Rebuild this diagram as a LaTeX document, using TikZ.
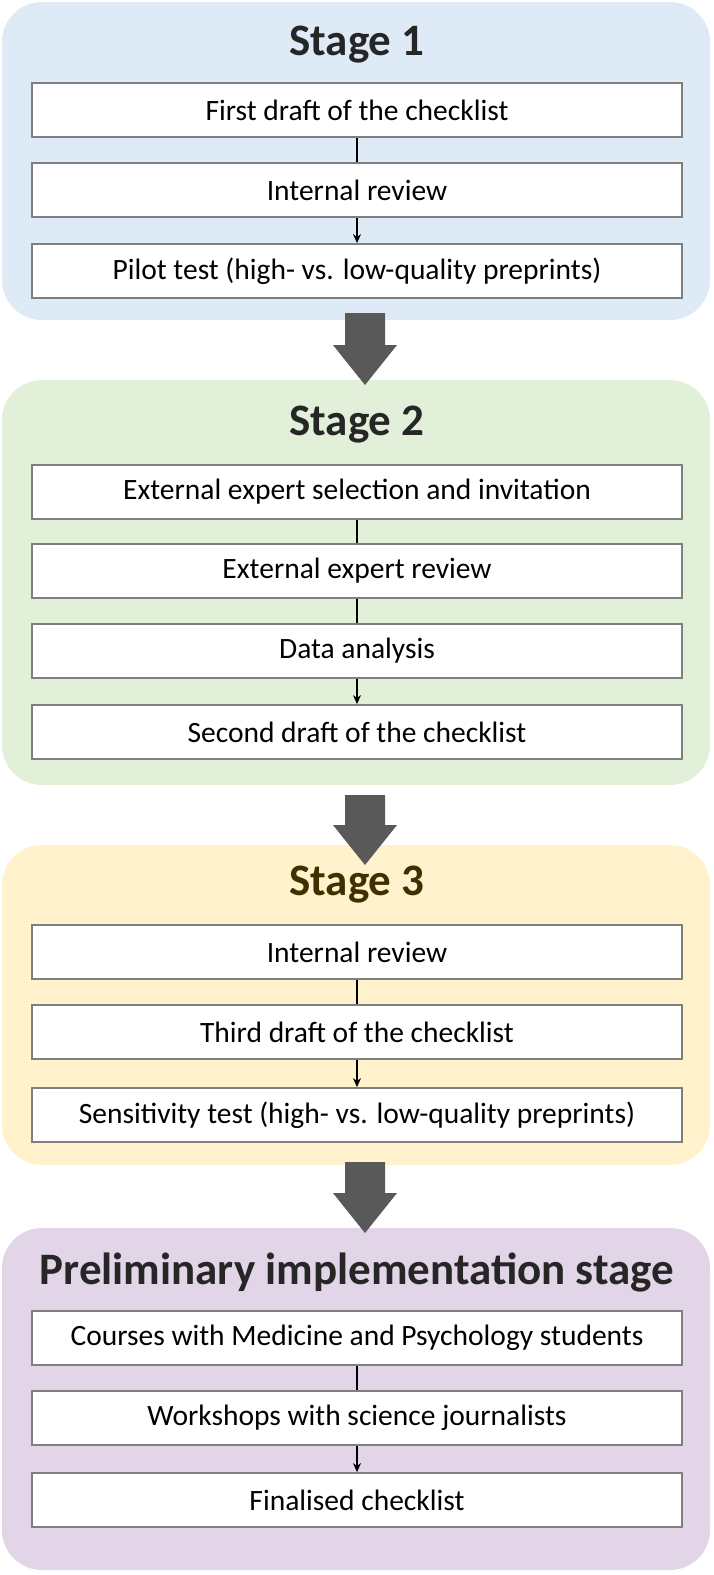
\documentclass[tikz,border=0pt]{standalone}
\usepackage{fontspec}
\setmainfont{Carlito}
\usetikzlibrary{arrows.meta}
\definecolor{pb}{HTML}{DEEBF7}
\definecolor{pg}{HTML}{E2F0D9}
\definecolor{py}{HTML}{FFF2CC}
\definecolor{pp}{HTML}{E1D5E7}
\definecolor{bd}{HTML}{7F7F7F}
\definecolor{ar}{HTML}{595959}
\tikzset{
 panel/.style={rounded corners=40pt,draw=none},
 title/.style={font=\bfseries\fontsize{45}{50}\selectfont,text=black!85},
 box/.style={draw=bd,line width=1.8pt,fill=white,minimum width=650pt,minimum height=54pt,font=\fontsize{29.5}{34}\selectfont,inner sep=0pt},
 ln/.style={line width=1.2pt,black},
 la/.style={line width=1.2pt,black,-{Stealth[length=9pt,width=8pt]}},
 big/.style={fill=ar,draw=none}
}
\begin{document}
\begin{tikzpicture}[x=1pt,y=-1pt]
\useasboundingbox (0,0) rectangle (714,1575);
\fill[panel,fill=pb] (2,2) rectangle (710,320);
\fill[panel,fill=pg] (2,380) rectangle (710,785);
\fill[panel,fill=py] (2,845) rectangle (710,1165);
\fill[panel,fill=pp] (2,1228) rectangle (710,1570);
% big arrows
\fill[big] (345,313) -- (385,313) -- (385,345) -- (397,345) -- (365,385) -- (333,345) -- (345,345) -- cycle;
\fill[big] (345,795) -- (385,795) -- (385,825) -- (397,825) -- (365,865) -- (333,825) -- (345,825) -- cycle;
\fill[big] (345,1162) -- (385,1162) -- (385,1193) -- (397,1193) -- (365,1233) -- (333,1193) -- (345,1193) -- cycle;
% stage 1
\node[title] (t1) at (357,45) {Stage 1};
\node[box] (a1) at (357,110) {First draft of the checklist};
\node[box] (a2) at (357,190) {Internal review};
\node[box] (a3) at (357,271) {Pilot test (high- vs. low-quality preprints)};
\draw[ln] (a1) -- (a2); \draw[la] (a2) -- (a3);
% stage 2
\node[title] (t2) at (357,425) {Stage 2};
\node[box] (b1) at (357,492) {External expert selection and invitation};
\node[box] (b2) at (357,571) {External expert review};
\node[box] (b3) at (357,651) {Data analysis};
\node[box] (b4) at (357,732) {Second draft of the checklist};
\draw[ln] (b1) -- (b2); \draw[ln] (b2) -- (b3); \draw[la] (b3) -- (b4);
% stage 3
\node[title,text={rgb,255:red,64;green,48;blue,0}] (t3) at (357,885) {Stage 3};
\node[box] (c1) at (357,952) {Internal review};
\node[box] (c2) at (357,1032) {Third draft of the checklist};
\node[box] (c3) at (357,1115) {Sensitivity test (high- vs. low-quality preprints)};
\draw[ln] (c1) -- (c2); \draw[la] (c2) -- (c3);
% stage 4
\node[title] (t4) at (357,1272) {Preliminary implementation stage};
\node[box] (d1) at (357,1338) {Courses with Medicine and Psychology students};
\node[box] (d2) at (357,1418) {Workshops with science journalists};
\node[box] (d3) at (357,1500) {Finalised checklist};
\draw[ln] (d1) -- (d2); \draw[la] (d2) -- (d3);
\end{tikzpicture}
\end{document}
